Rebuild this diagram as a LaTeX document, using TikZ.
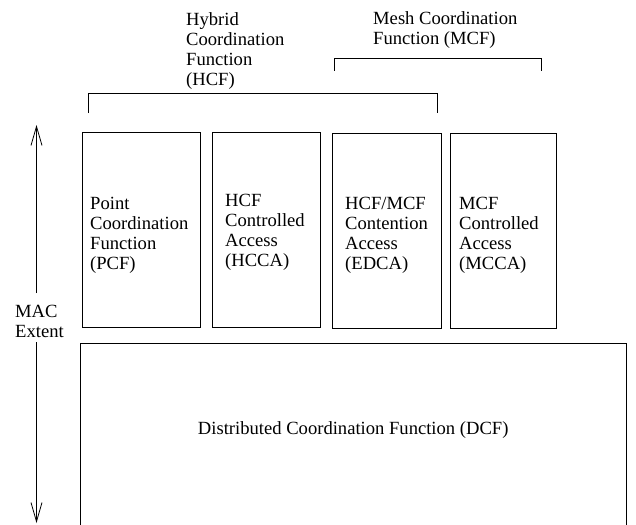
\documentclass[tikz,border=0pt]{standalone}
\usepackage{fontspec}
\setmainfont{Liberation Serif}
\usetikzlibrary{arrows.meta}
\begin{document}
\begin{tikzpicture}[x=1pt,y=-1pt,
  every node/.style={font=\fontsize{18.6}{20.2}\selectfont},
  line/.style={draw=black, line width=0.8pt},
  fnbox/.style={line, rectangle, anchor=north west, inner sep=0pt, minimum height=195pt},
  caption/.style={anchor=north west, inner sep=0pt, align=left},
  extent/.style={line, -{Straight Barb[length=19pt,width=11pt]}},
]
\useasboundingbox (0,0) rectangle (636,524);

% function blocks sitting on top of the DCF
\node[fnbox, minimum width=118pt] (pcf)  at (82,132) {};
\node[fnbox, minimum width=108pt] (hcca) at (212,132) {};
\node[fnbox, minimum width=109pt] (edca) at (332,133) {};
\node[fnbox, minimum width=106pt] (mcca) at (450,133) {};

\node[caption] (pcfText)  at (90,196.5)  {Point\\Coordination\\Function\\(PCF)};
\node[caption] (hccaText) at (225,193.7) {HCF\\Controlled\\Access\\(HCCA)};
\node[caption] (edcaText) at (345,196.7) {HCF/MCF\\Contention\\Access\\(EDCA)};
\node[caption] (mccaText) at (459,196.7) {MCF\\Controlled\\Access\\(MCCA)};

% distributed coordination function, open at the bottom
\node[anchor=north west, inner sep=0pt, minimum width=546pt, minimum height=174pt] (dcf) at (80,343)
  {Distributed Coordination Function (DCF)};
\draw[line] ([yshift=-10pt]dcf.south west) -- (dcf.north west) -- (dcf.north east) -- ([yshift=-10pt]dcf.south east);

% grouping brackets
\node[caption] (hcf) at (186,12) {Hybrid\\Coordination\\Function\\(HCF)};
\coordinate (hcfL) at (88,113);
\coordinate (hcfR) at (437,113);
\draw[line] (hcfL) -- (88,93) -- (437,93) -- (hcfR);

\node[caption] (mcf) at (373,11.3) {Mesh Coordination\\Function (MCF)};
\coordinate (mcfL) at (334,71);
\coordinate (mcfR) at (541,71);
\draw[line] (mcfL) -- (334,58) -- (541,58) -- (mcfR);

% MAC extent axis
\node[caption] (mac) at (15,305) {MAC\\Extent};
\coordinate (upStart) at (36.5,293);
\coordinate (upTip) at (36.5,125);
\coordinate (downStart) at (36.5,342);
\coordinate (downTip) at (36.5,523);
\draw[extent] (upStart) -- (upTip);
\draw[extent] (downStart) -- (downTip);
\end{tikzpicture}
\end{document}
